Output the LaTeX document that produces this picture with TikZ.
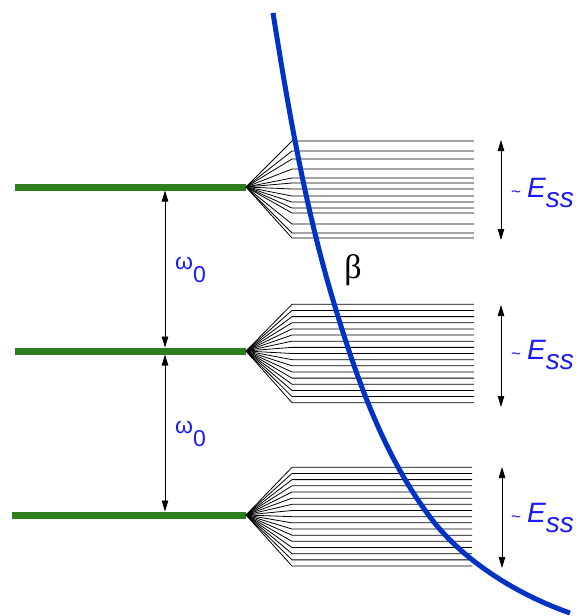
\documentclass[tikz,border=0pt]{standalone}
\usepackage{fontspec}
\setmainfont{Liberation Sans}
\newfontfamily\greekserif{Liberation Serif}
\usetikzlibrary{arrows.meta,positioning,calc}
\definecolor{levelgreen}{HTML}{2E7D1E}
\definecolor{curveblue}{HTML}{0033C4}
\definecolor{labelblue}{HTML}{1A1AF5}
\tikzset{
  >={Triangle[length=11pt,width=6.5pt]},
  % niveaus
  lvl/.style={draw=levelgreen,line width=7pt},
  band/.style={draw=black,line width=0.8pt},
  span/.style={<->,draw=black,line width=0.9pt},
  curv/.style={draw=curveblue,line width=5pt},
  % labels
  lbl/.style={text=labelblue,font=\fontsize{23}{26}\selectfont,inner sep=0pt},
  esslbl/.style={lbl,anchor=base west,font=\fontsize{28}{30}\selectfont},
}
\newcommand{\essText}{{\fontsize{17}{17}\selectfont\textasciitilde}\kern6pt\textit{E\raisebox{-10pt}{ss}}}

\begin{document}
\begin{tikzpicture}[x=1pt,y=-1pt]
  \useasboundingbox (0,0) rectangle (578,616);
  % green levels
  \coordinate (g1) at (15,187);  \coordinate (a1) at (246,187);
  \coordinate (g2) at (15,351);  \coordinate (a2) at (246,351);
  \coordinate (g3) at (12,515);  \coordinate (a3) at (246,515);
  \draw[lvl] (g1) -- (a1);
  \draw[lvl] (g2) -- (a2);
  \draw[lvl] (g3) -- (a3);
  % bands
  \foreach \y [count=\i] in {141,151,159,169,178,183,189,196,202,208,213,224,233,238} {
    \coordinate (f1\i) at (292,\y);
    \coordinate (e1\i) at (474,\y);
    \draw[band] (a1) -- (f1\i) -- (e1\i);
  }
  \foreach \i in {0,...,16} {
    \coordinate (f2\i) at (292,304.3+6.15*\i);
    \coordinate (e2\i) at (474,304.3+6.15*\i);
    \draw[band] (a2) -- (f2\i) -- (e2\i);
  }
  \foreach \i in {0,...,16} {
    \coordinate (f3\i) at (292,467.3+6.17*\i);
    \coordinate (e3\i) at (472,467.3+6.17*\i);
    \draw[band] (a3) -- (f3\i) -- (e3\i);
  }
  % omega_0 spacings
  \coordinate (w1t) at (165,190.5); \coordinate (w1b) at (165,347.5);
  \coordinate (w2t) at (165,354.5); \coordinate (w2b) at (165,511.5);
  \draw[span] (w1t) -- (w1b);
  \draw[span] (w2t) -- (w2b);
  \node[lbl,anchor=base west] (om1) at (175,269) {ω\raisebox{-13pt}{0}};
  \node[lbl,anchor=base west] (om2) at (175,433) {ω\raisebox{-13pt}{0}};
  % band widths
  \coordinate (r1t) at (501,140); \coordinate (r1b) at (501,240);
  \coordinate (r2t) at (501,305); \coordinate (r2b) at (501,407);
  \coordinate (r3t) at (502,467); \coordinate (r3b) at (502,568);
  \draw[span] (r1t) -- (r1b);
  \draw[span] (r2t) -- (r2b);
  \draw[span] (r3t) -- (r3b);
  \node[esslbl] (ess1) at (511,197) {\essText};
  \node[esslbl] (ess2) at (511,359) {\essText};
  \node[esslbl] (ess3) at (511,522) {\essText};
  % beta curve
  \coordinate (c0) at (273,13);
  \coordinate (c1) at (333,300);
  \coordinate (c2) at (430,517);
  \coordinate (c3) at (570,613);
  \draw[curv] (c0) .. controls (288.5,109.7) and (304.9,206.1) .. (c1)
    .. controls (355.7,375.7) and (382.6,453.8) .. (c2)
    .. controls (462,560) and (516.2,594.2) .. (c3);
  \node[font=\greekserif\fontsize{34}{36}\selectfont,inner sep=0pt] (beta) at (353,270) {β};
\end{tikzpicture}
\end{document}
